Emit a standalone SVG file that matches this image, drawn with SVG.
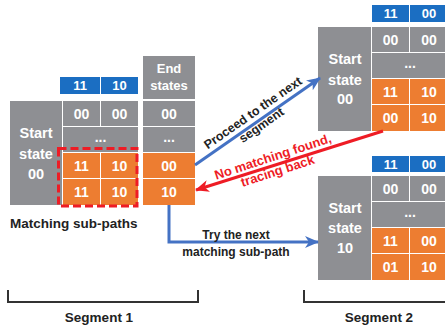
<svg xmlns="http://www.w3.org/2000/svg" width="445" height="326" viewBox="0 0 445 326">
<style>
text{font-family:"Liberation Sans",Arial,sans-serif;font-weight:bold}
.g{fill:#8e8f93}
.o{fill:#ed7d31}
.b{fill:#1b6ec2}
.w{fill:#ffffff;text-anchor:middle;font-size:14px}
.wh{fill:#ffffff;text-anchor:middle;font-size:13px}
.ws{fill:#ffffff;text-anchor:middle;font-size:14.5px}
.lbl{fill:#222222;font-size:13.5px}
.lb{fill:#222222;text-anchor:middle;font-size:12px}
.rd{fill:#ee1c25;text-anchor:middle;font-size:13px}
.br{fill:none;stroke:#333333;stroke-width:2}
</style>
<defs>
<marker id="ab" markerUnits="userSpaceOnUse" markerWidth="14" markerHeight="12" refX="13" refY="6" orient="auto"><path d="M0,0 L14,6 L0,12 L4,6 Z" fill="#4472c4"/></marker>
<marker id="ar" markerUnits="userSpaceOnUse" markerWidth="14" markerHeight="12" refX="13" refY="6" orient="auto"><path d="M0,0 L14,6 L0,12 L4,6 Z" fill="#ee1c25"/></marker>
</defs>

<g id="segment1-table">
<rect class="b" x="60" y="77" width="40" height="17"/>
<rect class="b" x="101" y="77" width="37" height="17"/>
<text class="wh" x="80" y="90">11</text>
<text class="wh" x="119.5" y="90">10</text>
<rect class="g" x="10" y="101" width="52" height="104"/>
<text class="ws" x="36" y="138">Start</text>
<text class="ws" x="36" y="159">state</text>
<text class="ws" x="36" y="179">00</text>
<rect class="g" x="63" y="101" width="37" height="25"/>
<rect class="g" x="101" y="101" width="37" height="25"/>
<text class="w" x="81.5" y="119">00</text>
<text class="w" x="119.5" y="119">00</text>
<rect class="g" x="63" y="127" width="75" height="25"/>
<text class="w" x="100.5" y="142">...</text>
<rect class="o" x="63" y="153" width="37" height="25"/>
<rect class="o" x="101" y="153" width="37" height="25"/>
<rect class="o" x="63" y="179" width="37" height="26"/>
<rect class="o" x="101" y="179" width="37" height="26"/>
<text class="w" x="81.5" y="171">11</text>
<text class="w" x="119.5" y="171">10</text>
<text class="w" x="81.5" y="197">11</text>
<text class="w" x="119.5" y="197">10</text>
<rect x="58.5" y="148.5" width="78.5" height="57.5" fill="none" stroke="#ee1c25" stroke-width="3" stroke-dasharray="8,4"/>
<text class="lbl" x="10" y="228">Matching sub-paths</text>
</g>

<g id="end-states">
<rect class="g" x="143" y="56" width="52" height="43"/>
<text class="wh" x="169" y="73">End</text>
<text class="wh" x="169" y="90">states</text>
<rect class="g" x="143" y="101" width="52" height="25"/>
<text class="w" x="169" y="119">00</text>
<rect class="g" x="143" y="127" width="52" height="25"/>
<text class="w" x="169" y="142">...</text>
<rect class="o" x="143" y="153" width="52" height="25"/>
<text class="w" x="169" y="171">00</text>
<rect class="o" x="143" y="179" width="52" height="26"/>
<text class="w" x="169" y="197">10</text>
</g>

<g id="segment2-top">
<rect class="b" x="372" y="5" width="37" height="17"/>
<rect class="b" x="410" y="5" width="38" height="17"/>
<text class="wh" x="390.5" y="18">11</text>
<text class="wh" x="429" y="18">00</text>
<rect class="g" x="318" y="27" width="53" height="104"/>
<text class="ws" x="345" y="64">Start</text>
<text class="ws" x="345" y="85">state</text>
<text class="ws" x="345" y="104">00</text>
<rect class="g" x="372" y="27" width="37" height="25"/>
<rect class="g" x="410" y="27" width="38" height="25"/>
<text class="w" x="390.5" y="45">00</text>
<text class="w" x="429" y="45">00</text>
<rect class="g" x="372" y="53" width="76" height="25"/>
<text class="w" x="410" y="68">...</text>
<rect class="o" x="372" y="79" width="37" height="25"/>
<rect class="o" x="410" y="79" width="38" height="25"/>
<rect class="o" x="372" y="105" width="37" height="26"/>
<rect class="o" x="410" y="105" width="38" height="26"/>
<text class="w" x="390.5" y="97">11</text>
<text class="w" x="429" y="97">10</text>
<text class="w" x="390.5" y="123">00</text>
<text class="w" x="429" y="123">10</text>
</g>

<g id="segment2-bottom">
<rect class="b" x="372" y="156" width="37" height="16"/>
<rect class="b" x="410" y="156" width="38" height="16"/>
<text class="wh" x="390.5" y="169">11</text>
<text class="wh" x="429" y="169">00</text>
<rect class="g" x="318" y="176" width="53" height="104"/>
<text class="ws" x="345" y="213">Start</text>
<text class="ws" x="345" y="233">state</text>
<text class="ws" x="345" y="253">10</text>
<rect class="g" x="372" y="176" width="37" height="25"/>
<rect class="g" x="410" y="176" width="38" height="25"/>
<text class="w" x="390.5" y="194">00</text>
<text class="w" x="429" y="194">00</text>
<rect class="g" x="372" y="202" width="76" height="25"/>
<text class="w" x="410" y="217">...</text>
<rect class="o" x="372" y="228" width="37" height="25"/>
<rect class="o" x="410" y="228" width="38" height="25"/>
<rect class="o" x="372" y="254" width="37" height="26"/>
<rect class="o" x="410" y="254" width="38" height="26"/>
<text class="w" x="390.5" y="246">11</text>
<text class="w" x="429" y="246">00</text>
<text class="w" x="390.5" y="272">01</text>
<text class="w" x="429" y="272">10</text>
</g>

<g id="connectors">
<line x1="195" y1="165" x2="320" y2="78" stroke="#4472c4" stroke-width="3" marker-end="url(#ab)"/>
<line x1="383" y1="131" x2="196" y2="190" stroke="#ee1c25" stroke-width="3" marker-end="url(#ar)"/>
<path d="M169,205 V242 H318" fill="none" stroke="#4472c4" stroke-width="3" marker-end="url(#ab)"/>
</g>

<g id="labels">
<g transform="translate(253,113) rotate(-35)">
<text class="lb" x="0" y="4" style="font-size:12.5px">Proceed to the next</text>
<text class="lb" x="0" y="19" style="font-size:12.5px">segment</text>
</g>
<g transform="translate(273,157) rotate(-18)">
<text class="rd" x="0" y="4">No matching found,</text>
<text class="rd" x="0" y="19">tracing back</text>
</g>
<text class="lb" x="236" y="239">Try the next</text>
<text class="lb" x="236" y="256">matching sub-path</text>
</g>

<g id="segments">
<path class="br" d="M8,290 V302 H198 V290"/>
<text class="lbl" x="99" y="322" text-anchor="middle">Segment 1</text>
<path class="br" d="M304,290 V302 H446"/>
<text class="lbl" x="379" y="322" text-anchor="middle">Segment 2</text>
</g>
</svg>
